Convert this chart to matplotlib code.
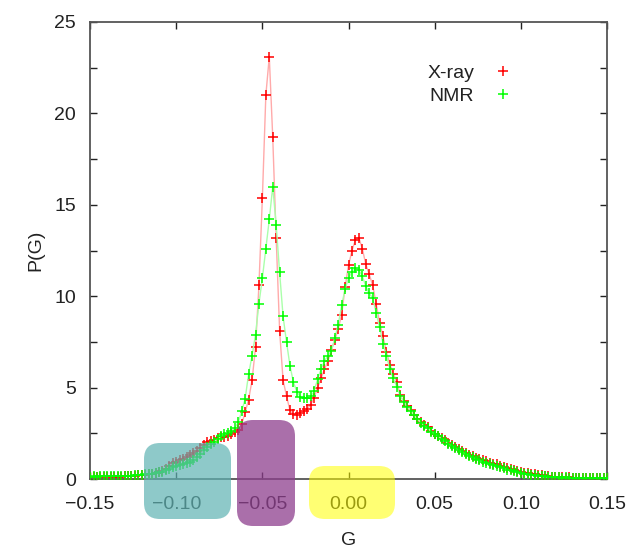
import numpy as np
import matplotlib
matplotlib.use("Agg")
import matplotlib.pyplot as plt
from matplotlib.patches import FancyBboxPatch

plt.rcParams['font.family'] = ['Liberation Sans', 'DejaVu Sans']

# bin centres of the histogram, -0.15 .. 0.15
G = np.round(np.linspace(-0.15, 0.15, 151), 3)

xray = [
    0.10, 0.10, 0.10, 0.11, 0.10, 0.11, 0.12, 0.11, 0.12, 0.13,
    0.14, 0.15, 0.17, 0.18, 0.20, 0.22, 0.24, 0.26, 0.29, 0.32,
    0.38, 0.46, 0.56, 0.70, 0.87, 0.94, 1.02, 1.10, 1.20, 1.30,
    1.42, 1.55, 1.70, 1.85, 2.00, 2.08, 2.15, 2.22, 2.28, 2.32,
    2.38, 2.45, 2.55, 2.70, 3.00, 3.65, 4.35, 5.40, 7.20, 10.6,
    15.4, 21.0, 23.1, 18.7, 13.2, 8.10, 5.40, 4.55, 3.75, 3.55,
    3.52, 3.63, 3.72, 3.85, 4.07, 4.45, 5.00, 5.50, 6.00, 6.45,
    7.05, 7.60, 8.20, 9.00, 10.5, 11.7, 12.5, 13.08, 13.2, 12.6,
    11.75, 11.2, 10.6, 9.60, 8.55, 7.80, 6.95, 6.25, 5.75, 5.30,
    4.60, 4.25, 4.00, 3.77, 3.52, 3.30, 3.10, 2.96, 2.82, 2.62,
    2.46, 2.35, 2.23, 2.11, 1.98, 1.84, 1.73, 1.63, 1.53, 1.43,
    1.34, 1.25, 1.17, 1.10, 1.02, 0.96, 0.89, 0.85, 0.80, 0.74,
    0.66, 0.59, 0.54, 0.48, 0.43, 0.39, 0.35, 0.31, 0.29, 0.25,
    0.23, 0.20, 0.17, 0.15, 0.12, 0.10, 0.09, 0.09, 0.08, 0.10,
    0.08, 0.07, 0.08, 0.07, 0.08, 0.06, 0.07, 0.06, 0.07, 0.06,
    0.06,
]

nmr = [
    0.13, 0.14, 0.13, 0.14, 0.15, 0.14, 0.15, 0.16, 0.15, 0.16,
    0.17, 0.18, 0.19, 0.20, 0.22, 0.24, 0.25, 0.27, 0.29, 0.32,
    0.36, 0.41, 0.47, 0.55, 0.65, 0.70, 0.76, 0.82, 0.87, 0.93,
    1.05, 1.20, 1.38, 1.57, 1.75, 1.90, 2.05, 2.20, 2.33, 2.45,
    2.52, 2.62, 2.80, 3.10, 3.70, 4.40, 5.75, 6.75, 7.90, 9.60,
    11.0, 12.6, 14.2, 16.0, 13.9, 11.3, 8.90, 7.50, 6.20, 5.30,
    4.78, 4.50, 4.43, 4.42, 4.52, 4.80, 5.45, 6.00, 6.45, 6.75,
    7.00, 7.70, 8.45, 9.50, 10.4, 11.0, 11.35, 11.53, 11.42, 11.1,
    10.55, 10.15, 9.90, 9.10, 8.30, 7.40, 6.75, 6.00, 5.50, 5.05,
    4.55, 4.22, 3.95, 3.72, 3.48, 3.28, 3.08, 2.92, 2.78, 2.60,
    2.45, 2.33, 2.20, 2.07, 1.94, 1.80, 1.69, 1.58, 1.47, 1.37,
    1.28, 1.18, 1.10, 1.02, 0.95, 0.88, 0.82, 0.77, 0.71, 0.65,
    0.58, 0.52, 0.47, 0.42, 0.38, 0.34, 0.30, 0.27, 0.24, 0.21,
    0.19, 0.16, 0.14, 0.12, 0.11, 0.10, 0.09, 0.08, 0.09, 0.08,
    0.07, 0.08, 0.07, 0.07, 0.06, 0.07, 0.06, 0.06, 0.07, 0.06,
    0.06,
]

xticks = [-0.15, -0.10, -0.05, 0.00, 0.05, 0.10, 0.15]
yticks = [0, 5, 10, 15, 20, 25]

fig = plt.figure(figsize=(6.3, 5.5), dpi=100)
ax = fig.add_axes([0.143, 0.129, 0.8205, 0.831])

ax.plot(G, xray, '-', color='#ffaaaa', lw=1, zorder=2)
ax.plot(G, xray, '+', color='#ff0000', ms=7, mew=1.1, ls='none', zorder=3, label='X-ray')
ax.plot(G, nmr, '-', color='#aaffaa', lw=1, zorder=4)
ax.plot(G, nmr, '+', color='#00ff00', ms=7, mew=1.1, ls='none', zorder=5, label='NMR')

ax.set_xlim(-0.15, 0.15)
ax.set_ylim(0, 25)
ax.set_xticks(xticks)
ax.set_xticklabels(['\u22120.15', '\u22120.10', '\u22120.05', '0.00', '0.05', '0.10', '0.15'])
ax.set_yticks(yticks)
ax.set_yticks([2.5, 7.5, 12.5, 17.5, 22.5], minor=True)
ax.tick_params(which='both', direction='in', top=True, right=True, length=5,
               width=1, color='#222222', labelsize=14, labelcolor='#222222')
ax.tick_params(axis='x', pad=12)
ax.tick_params(axis='y', pad=10)
for s in ax.spines.values():
    s.set_color('#555555')
    s.set_linewidth(1.3)

ax.set_xlabel('G', fontsize=14, color='#222222', labelpad=14)
ax.set_ylabel('P(G)', fontsize=14, color='#222222', labelpad=7)

leg = ax.legend(loc='upper left', bbox_to_anchor=(0.652, 0.908), frameon=False,
                markerfirst=False, handlelength=1.0, handletextpad=1.0,
                borderpad=0, borderaxespad=0, labelspacing=0.3,
                fontsize=14, labelcolor='#222222')

# highlight boxes (pixel positions on a 630x550 canvas)
W, H = 630.0, 550.0
boxes = [
    (144, 443, 231, 519, '#5fb3b3', 0.7),
    (237, 420, 295, 526, '#8e3f8e', 0.75),
    (309, 466, 395, 519, '#ffff00', 0.55),
]
for x0, y0, x1, y1, c, a in boxes:
    r = 16
    p = FancyBboxPatch((x0 / W, 1 - y1 / H), (x1 - x0) / W, (y1 - y0) / H,
                       boxstyle='round,pad=0,rounding_size=%f' % (r / W),
                       mutation_aspect=W / H, transform=fig.transFigure,
                       facecolor=c, edgecolor='none', alpha=a, zorder=10)
    fig.patches.append(p)

fig.savefig('out.png', dpi=100)
